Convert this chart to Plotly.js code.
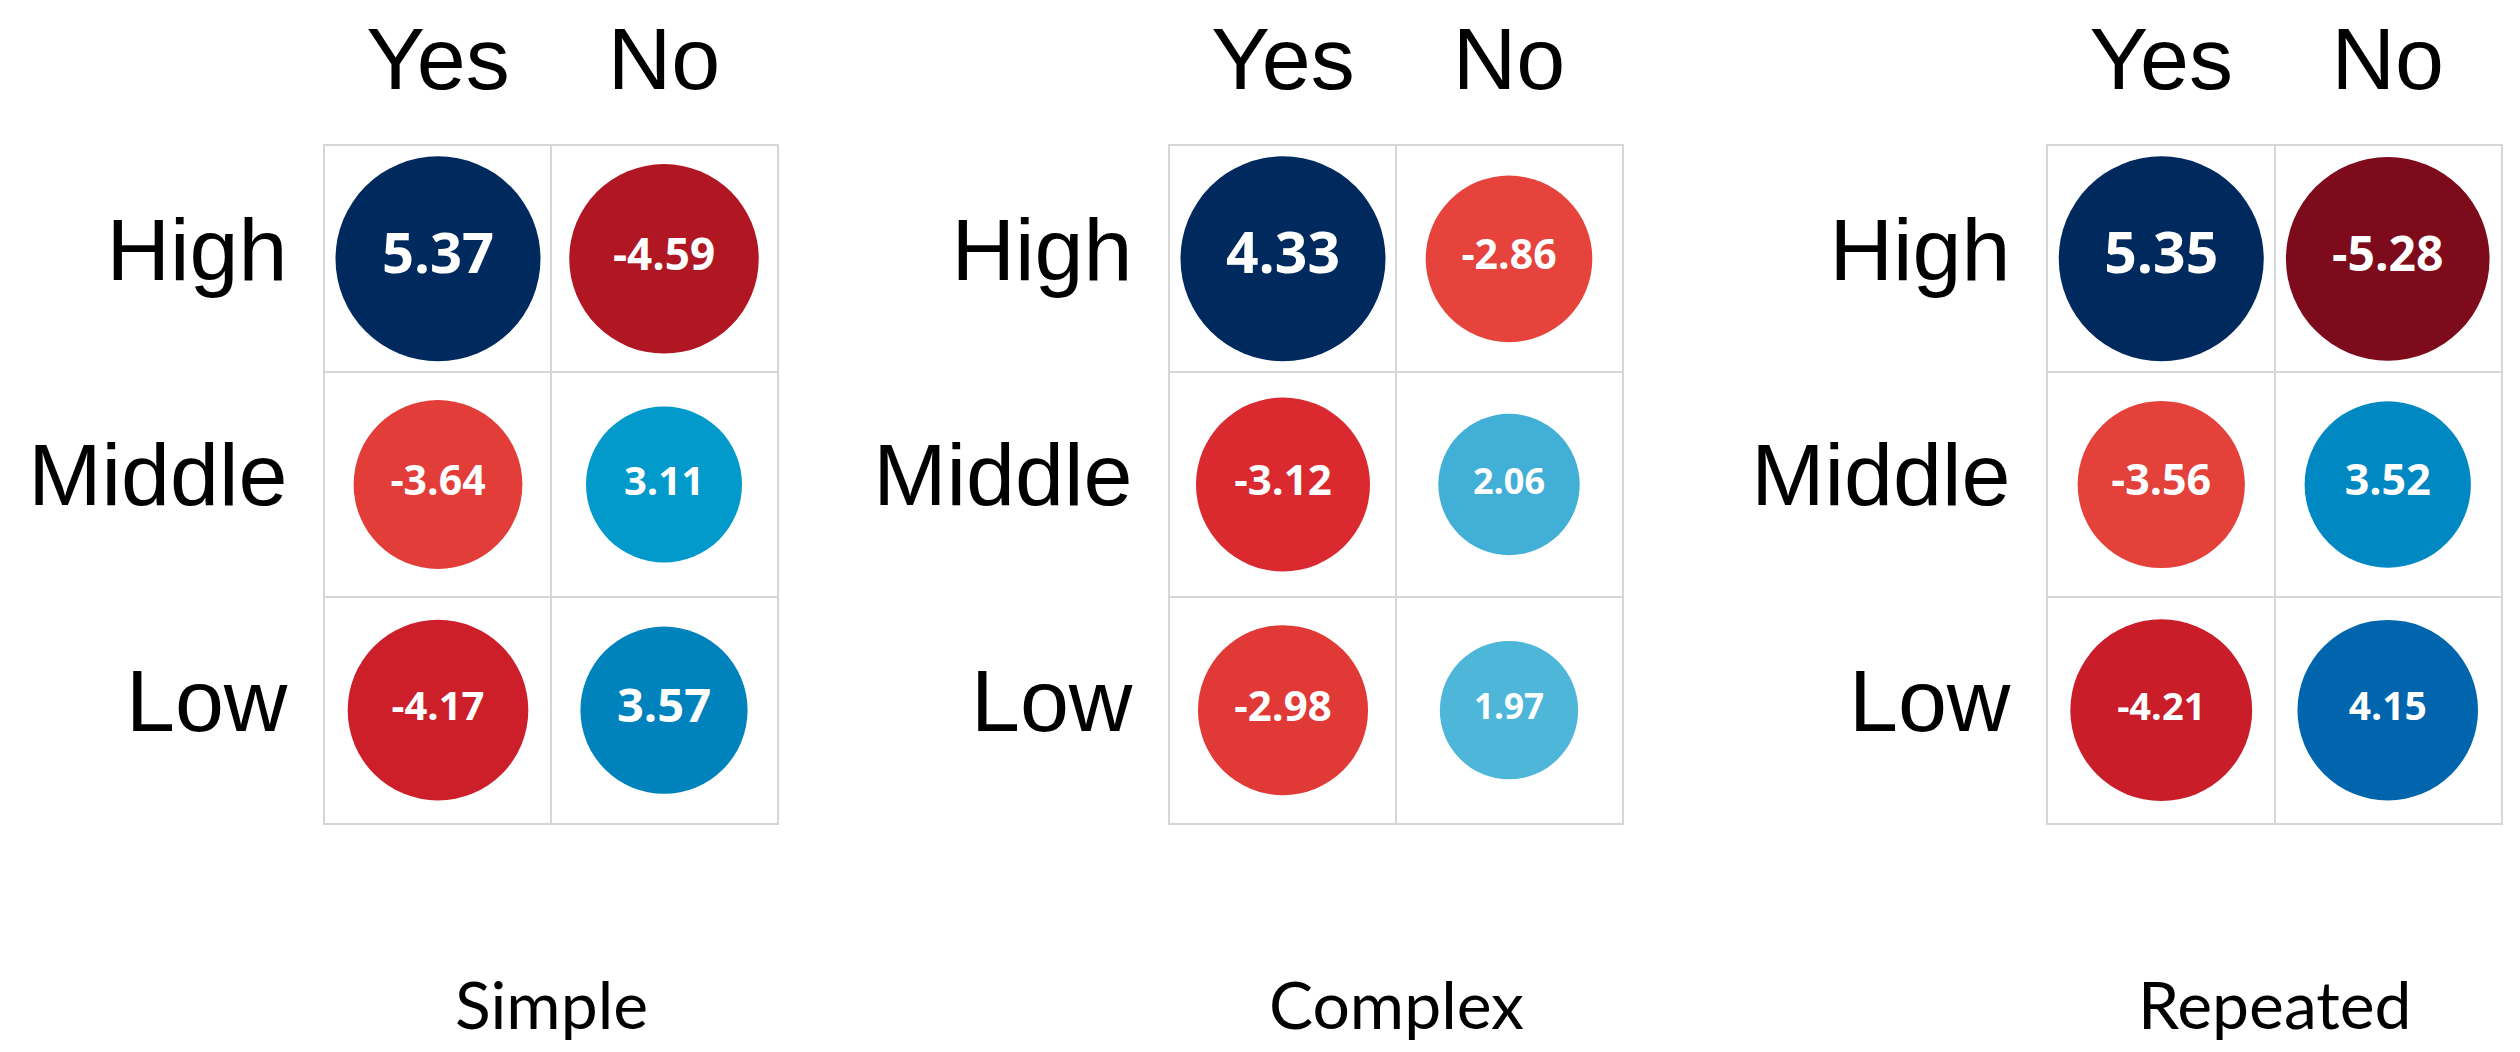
<!DOCTYPE html>
<html>
<head>
<meta charset="utf-8">
<script src="https://cdn.plot.ly/plotly-3.0.1.min.js"></script>
<style>html,body{margin:0;padding:0;background:#fff;}#chart{width:2520px;height:1052px;}</style>
</head>
<body>
<div id="chart"></div>
<script>
// ---- data ----
const cols = ['Yes', 'No'];
const rows = ['High', 'Middle', 'Low'];
const panels = ['Simple', 'Complex', 'Repeated'];

const simpleYes   = [5.37, -3.64, -4.17];
const simpleNo    = [-4.59, 3.11, 3.57];
const complexYes  = [4.33, -3.12, -2.98];
const complexNo   = [-2.86, 2.06, 1.97];
const repeatedYes = [5.35, -3.56, -4.21];
const repeatedNo  = [-5.28, 3.52, 4.15];

// ---- styles ----
const labelSizes = [
  {yes: [56, 41, 40], no: [44, 40, 47]},
  {yes: [57, 42, 42], no: [41, 36, 35]},
  {yes: [57, 43, 38], no: [48, 43, 39]}
];
const maxDiameter = 205;
const colorscale = [
  [0, '#780a1a'], [0.0725, '#b01722'], [0.11, '#cc1e2a'], [0.14, '#da292f'],
  [0.156, '#e13a36'], [0.17, '#e5433c'], [0.5, '#f5f5f5'],
  [0.7275, '#4db6d9'], [0.738, '#42b0d6'], [0.79, '#009acb'], [0.829, '#0088c2'],
  [0.8325, '#0082bd'], [0.888, '#0065ad'], [1, '#002a5e']
];
const xDomains = [[325/2520, 777/2520], [1170/2520, 1622/2520], [2048/2520, 2501/2520]];
const yDomain = [1 - 823/1052, 1 - 146/1052];

const panelData = [[simpleYes, simpleNo], [complexYes, complexNo], [repeatedYes, repeatedNo]];

const traces = [];
const layout = {
  width: 2520, height: 1052,
  margin: {l: 0, r: 0, t: 0, b: 0},
  paper_bgcolor: '#ffffff', plot_bgcolor: '#ffffff',
  showlegend: false,
  annotations: []
};

const gridStyle = {
  type: 'category', tickson: 'boundaries', showgrid: true, gridcolor: '#d6d6d6', gridwidth: 2,
  showline: true, mirror: true, linecolor: '#d6d6d6', linewidth: 2,
  ticks: '', zeroline: false, fixedrange: true,
  tickfont: {family: 'Liberation Sans, Arial, sans-serif', size: 88, color: '#000000'}
};

panelData.forEach((pd, i) => {
  const ax = i === 0 ? '' : String(i + 1);
  const allAbs = pd[0].concat(pd[1]).map(Math.abs);
  const pmax = Math.max.apply(null, allAbs);
  const xs = [], ys = [], vals = [], sizes = [], texts = [], tsizes = [];
  cols.forEach((c, ci) => {
    rows.forEach((r, ri) => {
      const v = pd[ci][ri];
      xs.push(c); ys.push(r); vals.push(v); sizes.push(Math.abs(v));
      texts.push(v.toFixed(2));
      tsizes.push((ci === 0 ? labelSizes[i].yes : labelSizes[i].no)[ri]);
    });
  });
  traces.push({
    type: 'scatter', mode: 'markers+text',
    x: xs, y: ys, text: texts,
    xaxis: 'x' + ax, yaxis: 'y' + ax,
    textposition: 'middle center',
    textfont: {family: 'Open Sans, sans-serif', weight: 'bold', color: '#ffffff', size: tsizes},
    marker: {
      size: sizes, sizemode: 'area', sizeref: 2 * pmax / (maxDiameter * maxDiameter),
      color: vals, colorscale: colorscale, cmin: -pmax, cmax: pmax, showscale: false,
      line: {width: 0}, opacity: 1
    },
    hoverinfo: 'skip', cliponaxis: false
  });
  layout['xaxis' + ax] = Object.assign({}, gridStyle, {
    domain: xDomains[i], anchor: 'y' + ax, side: 'top',
    categoryorder: 'array', categoryarray: cols, range: [-0.5, 1.5],
    ticklabelstandoff: 20
  });
  layout['yaxis' + ax] = Object.assign({}, gridStyle, {
    domain: yDomain, anchor: 'x' + ax,
    categoryorder: 'array', categoryarray: rows, range: [2.5, -0.5],
    ticklabelstandoff: 18, ticklabelshift: 10
  });
  layout.annotations.push({
    text: panels[i], xref: 'x' + ax + ' domain', x: 0.5, yref: 'paper', y: 1 - 1003/1052,
    xanchor: 'center', yanchor: 'middle', showarrow: false,
    font: {family: 'Lato, sans-serif', size: 66, color: '#000000'}
  });
});

Plotly.newPlot('chart', traces, layout, {displayModeBar: false, staticPlot: true});
</script>
</body>
</html>
